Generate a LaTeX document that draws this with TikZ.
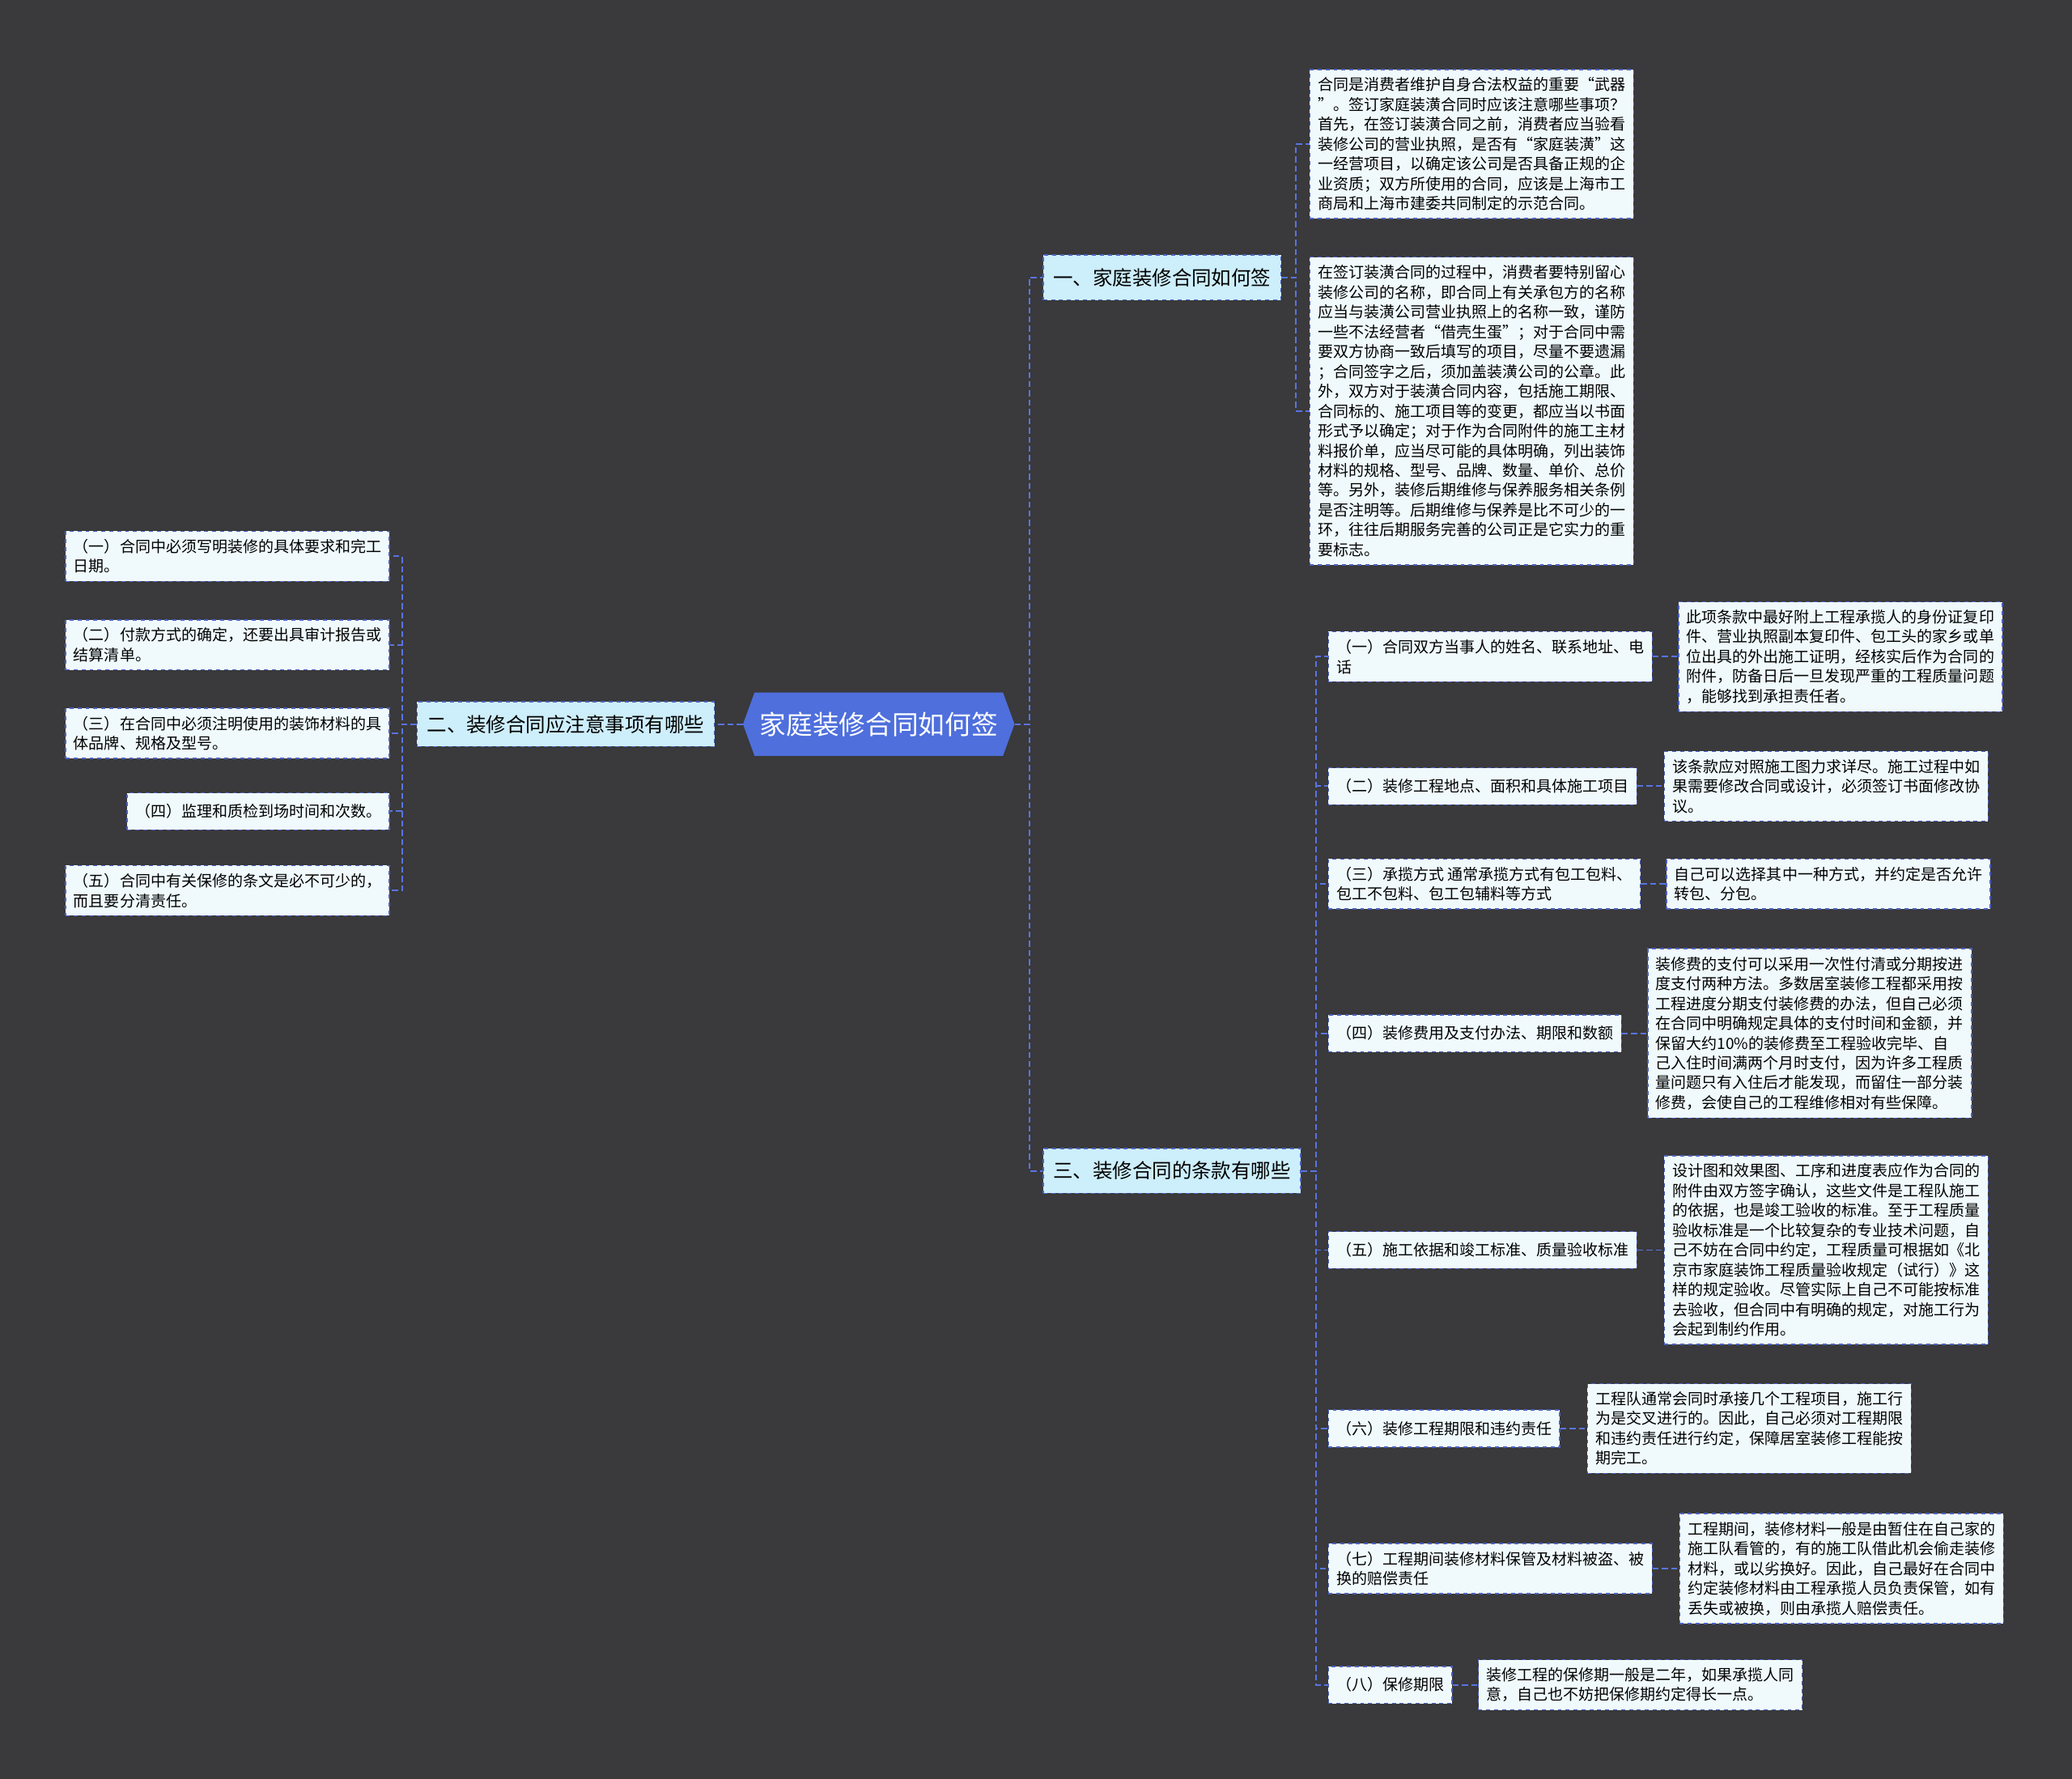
\documentclass[tikz,border=0pt]{standalone}
\usepackage{fontspec}
\setmainfont{Noto Sans CJK SC}
\usepackage{xcolor}
\usetikzlibrary{positioning,shapes.symbols}

\definecolor{bgdark}{HTML}{3A393B}
\definecolor{rootblue}{HTML}{4E6FDC}
\definecolor{topicfill}{HTML}{CDEEFB}
\definecolor{leaffill}{HTML}{F0FAFD}
\definecolor{edgeblue}{HTML}{4A62C0}
\definecolor{linkblue}{HTML}{5874E4}

\begin{document}
\begin{tikzpicture}[
            x=1pt, y=1pt,
            rootnode/.style={signal, signal to=west and east, signal pointer angle=140, fill=rootblue, text=white, minimum width=196pt, minimum height=48pt, inner xsep=4pt, font=\fontsize{20}{24}\selectfont},
            topic/.style={draw=edgeblue, dashed, line width=0.9pt, fill=topicfill, minimum height=34pt, inner xsep=7.5pt, font=\fontsize{15}{18}\selectfont},
            leaf/.style={draw=edgeblue, dashed, line width=0.9pt, fill=leaffill, align=left, inner xsep=6pt, inner ysep=6pt, minimum height=28pt, font=\fontsize{11.65}{15}\selectfont},
            link/.style={draw=linkblue, line width=1.2pt, dash pattern=on 4.5pt off 2.5pt}
        ]

        % Background and frame
        \fill[bgdark] (0,0) rectangle (1568,-1346);
        \useasboundingbox (0,0) rectangle (1568,-1346);

        % Root and main topics
        \node (root) [rootnode] at (665,-548) {家庭装修合同如何签};
        \node (one) [topic, right=21pt of root, yshift=338pt] {一、家庭装修合同如何签};
        \node (two) [topic, left=21pt of root] {二、装修合同应注意事项有哪些};
        \node (three) [topic, right=21pt of root, yshift=-338pt] {三、装修合同的条款有哪些};

        % Topic one
        \node (a1) [leaf, right=21pt of one, yshift=101pt] {合同是消费者维护自身合法权益的重要“武器\\”。签订家庭装潢合同时应该注意哪些事项？\\首先，在签订装潢合同之前，消费者应当验看\\装修公司的营业执照，是否有“家庭装潢”这\\一经营项目，以确定该公司是否具备正规的企\\业资质；双方所使用的合同，应该是上海市工\\商局和上海市建委共同制定的示范合同。};
        \node (a2) [leaf, right=21pt of one, yshift=-101pt] {在签订装潢合同的过程中，消费者要特别留心\\装修公司的名称，即合同上有关承包方的名称\\应当与装潢公司营业执照上的名称一致，谨防\\一些不法经营者“借壳生蛋”；对于合同中需\\要双方协商一致后填写的项目，尽量不要遗漏\\；合同签字之后，须加盖装潢公司的公章。此\\外，双方对于装潢合同内容，包括施工期限、\\合同标的、施工项目等的变更，都应当以书面\\形式予以确定；对于作为合同附件的施工主材\\料报价单，应当尽可能的具体明确，列出装饰\\材料的规格、型号、品牌、数量、单价、总价\\等。另外，装修后期维修与保养服务相关条例\\是否注明等。后期维修与保养是比不可少的一\\环，往往后期服务完善的公司正是它实力的重\\要标志。};

        % Topic two
        \node (b1) [leaf, left=20pt of two, yshift=127pt] {（一）合同中必须写明装修的具体要求和完工\\日期。};
        \node (b2) [leaf, left=20pt of two, yshift=60pt] {（二）付款方式的确定，还要出具审计报告或\\结算清单。};
        \node (b3) [leaf, left=20pt of two, yshift=-7pt] {（三）在合同中必须注明使用的装饰材料的具\\体品牌、规格及型号。};
        \node (b4) [leaf, left=20pt of two, yshift=-66pt] {（四）监理和质检到场时间和次数。};
        \node (b5) [leaf, left=20pt of two, yshift=-126pt] {（五）合同中有关保修的条文是必不可少的，\\而且要分清责任。};

        % Topic three
        \node (c1) [leaf, right=20pt of three, yshift=389pt] {（一）合同双方当事人的姓名、联系地址、电\\话};
        \node (c2) [leaf, right=20pt of three, yshift=291pt] {（二）装修工程地点、面积和具体施工项目};
        \node (c3) [leaf, right=20pt of three, yshift=217pt] {（三）承揽方式 通常承揽方式有包工包料、\\包工不包料、包工包辅料等方式};
        \node (c4) [leaf, right=20pt of three, yshift=104pt] {（四）装修费用及支付办法、期限和数额};
        \node (c5) [leaf, right=20pt of three, yshift=-60pt] {（五）施工依据和竣工标准、质量验收标准};
        \node (c6) [leaf, right=20pt of three, yshift=-195pt] {（六）装修工程期限和违约责任};
        \node (c7) [leaf, right=20pt of three, yshift=-301pt] {（七）工程期间装修材料保管及材料被盗、被\\换的赔偿责任};
        \node (c8) [leaf, right=20pt of three, yshift=-389pt] {（八）保修期限};

        \node (c1d) [leaf, right=19pt of c1] {此项条款中最好附上工程承揽人的身份证复印\\件、营业执照副本复印件、包工头的家乡或单\\位出具的外出施工证明，经核实后作为合同的\\附件，防备日后一旦发现严重的工程质量问题\\，能够找到承担责任者。};
        \node (c2d) [leaf, right=20pt of c2] {该条款应对照施工图力求详尽。施工过程中如\\果需要修改合同或设计，必须签订书面修改协\\议。};
        \node (c3d) [leaf, right=19pt of c3] {自己可以选择其中一种方式，并约定是否允许\\转包、分包。};
        \node (c4d) [leaf, right=19pt of c4] {装修费的支付可以采用一次性付清或分期按进\\度支付两种方法。多数居室装修工程都采用按\\工程进度分期支付装修费的办法，但自己必须\\在合同中明确规定具体的支付时间和金额，并\\保留大约10\%的装修费至工程验收完毕、自\\己入住时间满两个月时支付，因为许多工程质\\量问题只有入住后才能发现，而留住一部分装\\修费，会使自己的工程维修相对有些保障。};
        \node (c5d) [leaf, right=20pt of c5] {设计图和效果图、工序和进度表应作为合同的\\附件由双方签字确认，这些文件是工程队施工\\的依据，也是竣工验收的标准。至于工程质量\\验收标准是一个比较复杂的专业技术问题，自\\己不妨在合同中约定，工程质量可根据如《北\\京市家庭装饰工程质量验收规定（试行）》这\\样的规定验收。尽管实际上自己不可能按标准\\去验收，但合同中有明确的规定，对施工行为\\会起到制约作用。};
        \node (c6d) [leaf, right=20pt of c6] {工程队通常会同时承接几个工程项目，施工行\\为是交叉进行的。因此，自己必须对工程期限\\和违约责任进行约定，保障居室装修工程能按\\期完工。};
        \node (c7d) [leaf, right=20pt of c7] {工程期间，装修材料一般是由暂住在自己家的\\施工队看管的，有的施工队借此机会偷走装修\\材料，或以劣换好。因此，自己最好在合同中\\约定装修材料由工程承揽人员负责保管，如有\\丢失或被换，则由承揽人赔偿责任。};
        \node (c8d) [leaf, right=19pt of c8] {装修工程的保修期一般是二年，如果承揽人同\\意，自己也不妨把保修期约定得长一点。};

        % Links
        \draw[link] (root.west) -- (two.east);
        \draw[link] (root.east) -- ++(11pt,0) |- (one.west);
        \draw[link] (root.east) -- ++(11pt,0) |- (three.west);
        \foreach \k in {a1,a2}
            \draw[link] (one.east) -- ++(11pt,0) |- (\k.west);
        \foreach \k in {b1,b2,b3,b4,b5}
            \draw[link] (two.west) -- ++(-11pt,0) |- (\k.east);
        \foreach \k in {c1,c2,c3,c4,c5,c6,c7,c8} {
            \draw[link] (three.east) -- ++(11pt,0) |- (\k.west);
            \draw[link] (\k.east) -- (\k d.west);
        }
\end{tikzpicture}
\end{document}
